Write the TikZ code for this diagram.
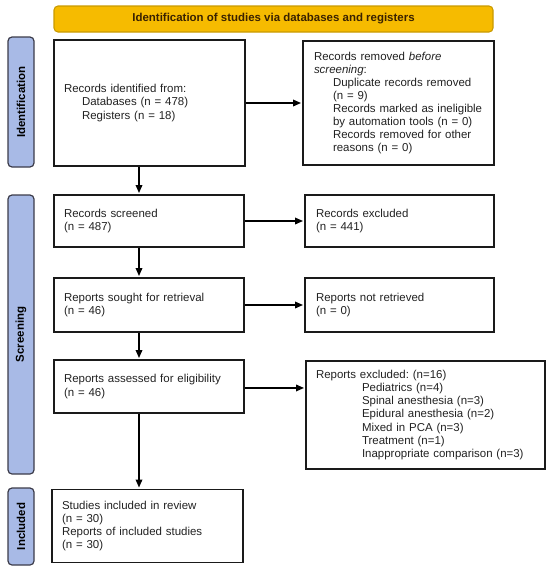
\documentclass[tikz,border=0pt]{standalone}
\usepackage{fontspec}
\setmainfont{Liberation Sans}
\usetikzlibrary{arrows.meta}
\frenchspacing
\definecolor{bannerfill}{HTML}{F6BB00}
\definecolor{bannerdraw}{HTML}{C99A00}
\definecolor{bannertext}{HTML}{3A2200}
\definecolor{sidefill}{HTML}{A8BAE6}
\definecolor{sidedraw}{HTML}{3C3C4A}
\definecolor{boxdraw}{HTML}{1A1A1A}
\definecolor{txt}{HTML}{222222}
\tikzset{
  box/.style={draw=boxdraw, line width=1pt, align=left, inner xsep=7.5pt, inner ysep=0pt,
    font=\fontsize{8.6}{9.8}\selectfont\frenchspacing, text=txt},
  sidebar/.style={draw=sidedraw, fill=sidefill, line width=0.9pt, rounded corners=3pt,
    rotate=90, inner sep=0pt, font=\fontsize{8.6}{9.8}\selectfont\bfseries, text=black},
  banner/.style={draw=bannerdraw, fill=bannerfill, line width=0.8pt, rounded corners=3pt,
    inner sep=0pt, font=\fontsize{8.6}{9.8}\selectfont\bfseries, text=bannertext},
  flow/.style={draw=black, line width=1pt, -{Triangle[length=6pt,width=5pt]}, shorten >=1pt}
}
\newcommand{\ind}[1]{\hspace*{#1}}
\begin{document}
\begin{tikzpicture}[x=0.75pt,y=-0.75pt]
\useasboundingbox (0,0) rectangle (550,571);
% banner
\node[banner, minimum width=329.25pt, minimum height=19.5pt] (ban) at (273.5,19)
  {Identification of studies via databases and registers};
% side bars
\node[sidebar, minimum width=97.5pt, minimum height=19.5pt] (sid) at (21,102) {Identification};
\node[sidebar, minimum width=209.25pt, minimum height=19.5pt] (sscr) at (21,334.5) {Screening};
\node[sidebar, minimum width=57.75pt, minimum height=19.5pt] (sinc) at (21,526.5) {Included};
% left column
\node[box, text width=128.25pt, minimum height=94.5pt] (b1) at (149.5,103)
  {Records identified from:\\ \ind{13.5pt}Databases (n = 478)\\ \ind{13.5pt}Registers (n = 18)};
\node[box, text width=127.5pt, minimum height=39pt] (b2) at (149,221)
  {Records screened\\(n = 487)};
\node[box, text width=127.5pt, minimum height=40.5pt] (b3) at (149,305)
  {Reports sought for retrieval\\(n = 46)};
\node[box, text width=127.5pt, minimum height=39.75pt] (b4) at (149,386.5)
  {Reports assessed for eligibility\\(n = 46)};
\node[box, text width=128.25pt, minimum height=54.75pt] (b5) at (147.5,526)
  {Studies included in review\\(n = 30)\\Reports of included studies\\(n = 30)};
% right column
\node[box, text width=126.75pt, inner xsep=8.25pt, minimum height=93pt] (r1) at (398.5,103)
  {Records removed \textit{before}\\\textit{screening}:\\
   \ind{14.25pt}Duplicate records removed\\ \ind{14.25pt}(n = 9)\\
   \ind{14.25pt}Records marked as ineligible\\ \ind{14.25pt}by automation tools (n = 0)\\
   \ind{14.25pt}Records removed for other\\ \ind{14.25pt}reasons (n = 0)};
\node[box, text width=125.25pt, inner xsep=8.25pt, minimum height=39pt] (r2) at (399.5,221)
  {Records excluded\\(n = 441)};
\node[box, text width=125.25pt, inner xsep=8.25pt, minimum height=40.5pt] (r3) at (399.5,305)
  {Reports not retrieved\\(n = 0)};
\node[box, text width=164.25pt, minimum height=81pt] (r4) at (425.5,415)
  {Reports excluded: (n=16)\\
   \ind{34.5pt}Pediatrics (n=4)\\ \ind{34.5pt}Spinal anesthesia (n=3)\\
   \ind{34.5pt}Epidural anesthesia (n=2)\\ \ind{34.5pt}Mixed in PCA (n=3)\\
   \ind{34.5pt}Treatment (n=1)\\ \ind{34.5pt}Inappropriate comparison (n=3)};
% arrows
\coordinate (ax) at (139,0);
\draw[flow] (b1.south -| ax) -- (b2.north -| ax);
\draw[flow] (b2.south -| ax) -- (b3.north -| ax);
\draw[flow] (b3.south -| ax) -- (b4.north -| ax);
\draw[flow] (b4.south -| ax) -- (b5.north -| ax);
\draw[flow] (b1.east) -- (b1.east -| r1.west);
\draw[flow] (b2.east) -- (r2.west);
\draw[flow] (b3.east) -- (r3.west);
\draw[flow] ([yshift=-1.1pt]b4.east) -- ([yshift=-1.1pt]b4.east -| r4.west);
\end{tikzpicture}
\end{document}
